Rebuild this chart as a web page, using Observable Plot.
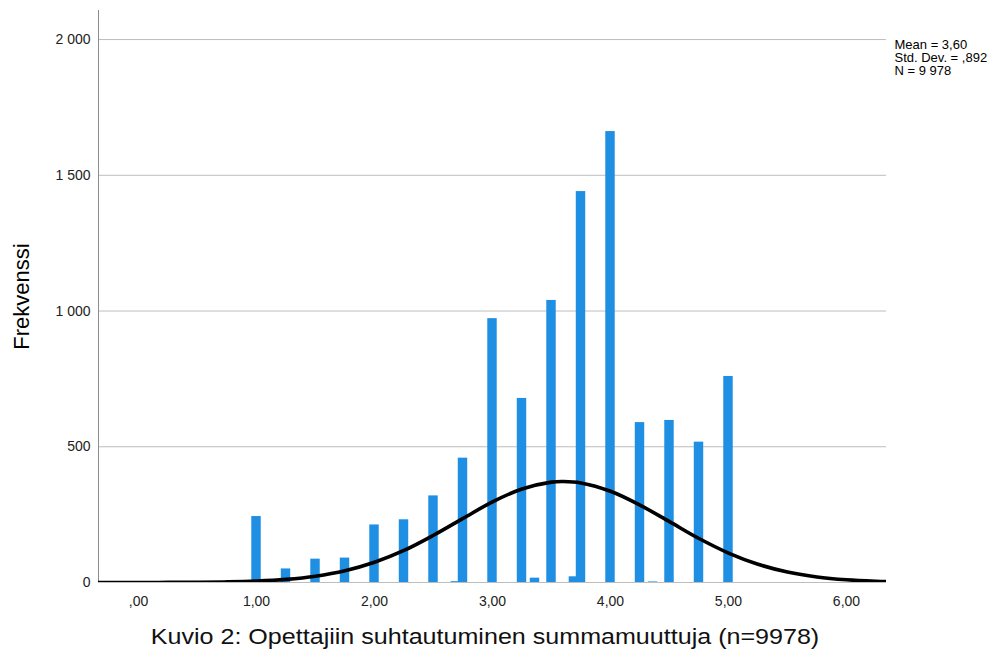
<!DOCTYPE html>
<html>
<head>
<meta charset="utf-8">
<script src="https://cdn.jsdelivr.net/npm/d3@7"></script>
<script src="https://cdn.jsdelivr.net/npm/@observablehq/plot@0.6"></script>
<style>
  body { margin: 0; background: #fff; font-family: "Liberation Sans", Arial, sans-serif; }
  #title { width: 1006px; box-sizing: border-box; padding-right: 36px; text-align: center;
           font-size: 22px; line-height: 26px; margin-top: 4px; color: #111;
           transform: scaleX(1.14); transform-origin: 485px 50%; }
</style>
</head>
<body>
<div id="chart"></div>
<div id="title">Kuvio 2: Opettajiin suhtautuminen summamuuttuja (n=9978)</div>
<script>
// Histogram bins (bin centre, frequency)
const binCenters = [1.00, 1.25, 1.50, 1.75, 2.00, 2.25, 2.50, 2.69, 2.75, 3.00, 3.25, 3.36, 3.50, 3.69, 3.75, 4.00, 4.25, 4.36, 4.50, 4.75, 5.00];
const binCounts  = [243,  50,   86,   90,   212,  231,  319,  3,    458,  972,  678,  16,   1039, 21,   1440, 1661, 589,  2,    597,  517,  759];
const binWidth = 0.08;

// Fitted normal curve
const curveX = [-0.35, 0, 0.25, 0.5, 0.75, 1.0, 1.25, 1.5, 1.75, 2.0, 2.25, 2.5, 2.75, 3.0, 3.25, 3.5, 3.6, 3.75, 4.0, 4.25, 4.5, 4.75, 5.0, 5.25, 5.5, 5.75, 6.0, 6.25, 6.38];
const curveY = [0, 0.1, 0.3, 0.9, 2.3, 5.3, 11.6, 23.3, 43.3, 74.5, 118, 174, 236, 297, 344.5, 369.7, 372, 366.8, 336, 285, 224, 162, 108.5, 67.2, 38.5, 20.4, 10, 4.5, 2.9];

// Axis ticks and labels
const xTicks = [0, 1, 2, 3, 4, 5, 6];
const xTickLabels = [",00", "1,00", "2,00", "3,00", "4,00", "5,00", "6,00"];
const yTicks = [0, 500, 1000, 1500, 2000];
const yTickLabels = ["0", "500", "1 000", "1 500", "2 000"];

const yLabel = "Frekvenssi";
const statsText = ["Mean = 3,60", "Std. Dev. = ,892", "N = 9 978"];

const bins = binCenters.map((c, i) => ({c, n: binCounts[i]}));
const curve = curveX.map((x, i) => ({x, y: curveY[i]}));

const chart = Plot.plot({
  width: 1006,
  height: 620,
  marginLeft: 98,
  marginRight: 120,
  marginTop: 10,
  marginBottom: 38,
  style: {fontFamily: "Liberation Sans, Arial, sans-serif", fontSize: "14px", color: "#222", background: "#fff"},
  x: {domain: [-0.339, 6.339]},
  y: {domain: [0, 2107]},
  marks: [
    Plot.gridY(yTicks, {stroke: "#bdbdbd", strokeOpacity: 1, strokeWidth: 1}),
    Plot.ruleX([-0.339], {stroke: "#8c8c8c", strokeWidth: 1}),
    Plot.rectY(bins, {x1: d => d.c - binWidth / 2, x2: d => d.c + binWidth / 2, y: "n", fill: "#1e8fe3"}),
    Plot.line(curve, {x: "x", y: "y", curve: "catmull-rom", stroke: "#000", strokeWidth: 3.6, clip: true}),
    Plot.axisY(yTicks, {tickSize: 0, tickPadding: 8, tickFormat: (d, i) => yTickLabels[i], label: null, fontSize: 14}),
    Plot.axisX(xTicks, {tickSize: 0, tickPadding: 14, tickFormat: (d, i) => xTickLabels[i], label: null, fontSize: 14}),
    Plot.text([yLabel], {frameAnchor: "left", textAnchor: "middle", lineAnchor: "middle", dx: -77, rotate: -90, fontSize: 22, fill: "#000"}),
    Plot.text([statsText.join("\n")], {frameAnchor: "top-right", textAnchor: "start", lineAnchor: "top", dx: 8, dy: 29, fontSize: 13, lineHeight: 1.0, fill: "#000"})
  ]
});
document.getElementById("chart").appendChild(chart);
</script>
</body>
</html>
